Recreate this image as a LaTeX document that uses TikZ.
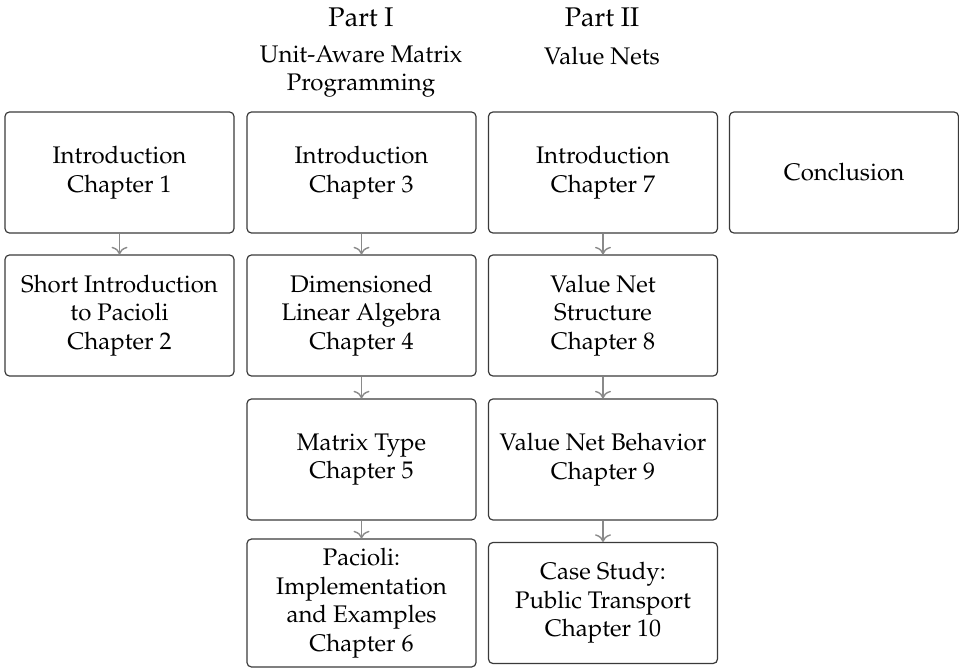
\documentclass[tikz,border=0pt]{standalone}
\usepackage[T1]{fontenc}
\usepackage{mathpazo}
\usetikzlibrary{arrows.meta}
\definecolor{boxline}{HTML}{3A3A3A}
\definecolor{flowline}{HTML}{8A8A8A}
\tikzset{
  chapbox/.style={draw=boxline, line width=0.6pt, rounded corners=2.2pt,
    minimum width=114.5pt, minimum height=60.5pt, align=center,
    inner xsep=1pt, inner ysep=4.5pt,
    font=\fontsize{12}{14.3}\selectfont},
  parthead/.style={font=\fontsize{13.5}{16}\selectfont, inner sep=0pt},
  subhead/.style={font=\fontsize{12}{14}\selectfont, align=center, inner sep=0pt},
  flow/.style={draw=flowline, line width=0.7pt,
    -{To[length=3.8pt,width=8pt,line width=0.7pt]}},
}
\begin{document}
\begin{tikzpicture}[x=0.5pt, y=-0.5pt]
  \useasboundingbox (0,0) rectangle (959,669);

  % part headings
  \node[parthead] (p1)  at (361,17) {Part I};
  \node[subhead]  (p1s) at (361,72) {Unit-Aware Matrix\\Programming};
  \node[parthead] (p2)  at (602,17) {Part II};
  \node[subhead]  (p2s) at (602,56) {Value Nets};

  % column 1
  \node[chapbox] (c1) at (119.5,172.5) {Introduction\\Chapter 1};
  \node[chapbox] (c2) at (119.5,315.5) {Short Introduction\\to Pacioli\\Chapter 2};

  % column 2: Part I
  \node[chapbox] (c3) at (361.5,172.5) {Introduction\\Chapter 3};
  \node[chapbox] (c4) at (361.5,315.5) {Dimensioned\\Linear Algebra\\Chapter 4};
  \node[chapbox] (c5) at (361.5,459.5) {Matrix Type\\Chapter 5};
  \node[chapbox] (c6) at (361.5,603) {Pacioli:\\Implementation\\and Examples\\Chapter 6};

  % column 3: Part II
  \node[chapbox] (c7)  at (603,172.5) {Introduction\\Chapter 7};
  \node[chapbox] (c8)  at (603,315.5) {Value Net\\Structure\\Chapter 8};
  \node[chapbox] (c9)  at (603,459.5) {Value Net Behavior\\Chapter 9};
  \node[chapbox] (c10) at (603,603) {Case Study:\\Public Transport\\Chapter 10};

  % column 4
  \node[chapbox] (c11) at (844,172.5) {Conclusion};

  % reading order
  \draw[flow] (c1.south) -- (c2.north);
  \draw[flow] (c3.south) -- (c4.north);
  \draw[flow] (c4.south) -- (c5.north);
  \draw[flow] (c5.south) -- (c6.north);
  \draw[flow] (c7.south) -- (c8.north);
  \draw[flow] (c8.south) -- (c9.north);
  \draw[flow] (c9.south) -- (c10.north);
\end{tikzpicture}
\end{document}
